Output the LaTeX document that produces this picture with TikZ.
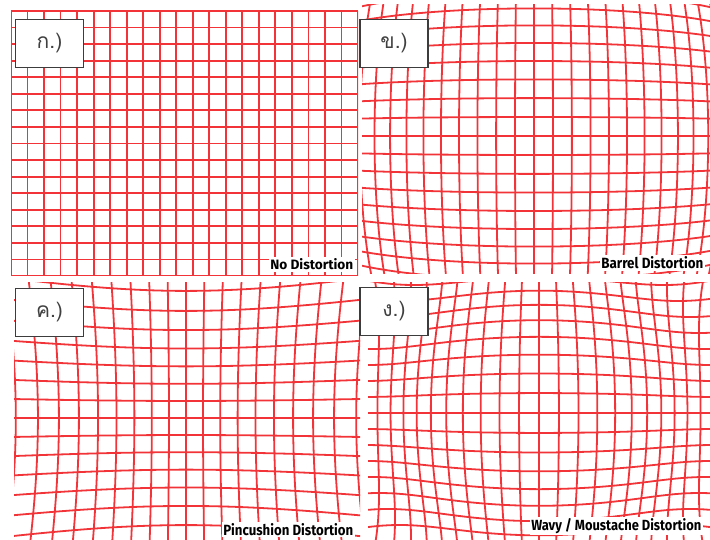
\documentclass[tikz,border=0pt]{standalone}
\usepackage{fontspec}
\usepackage{graphicx}
\setmainfont{Liberation Sans}
\newfontfamily\thaifont[Script=Thai]{Loma}
\newfontfamily\labfont{Fira Sans}
\definecolor{gridred}{RGB}{242,52,56}
\definecolor{boxgray}{RGB}{60,60,60}
\tikzset{
  gridline/.style={draw=gridred, line width=1.8pt},
  lbox/.style={draw=boxgray, fill=white, line width=1.2pt, minimum width=68pt, minimum height=48pt, inner sep=0pt,
    font=\thaifont\fontsize{21}{21}\selectfont, text=black!75},
  caption/.style={fill=white, inner sep=1.5pt, text=black}
}
% #1 cx, #2 cy, #3 spacing/100, #4 N, #5 k1, #6 k2, #7 domain
\newcommand\dgrid[7]{%
  \foreach \i in {-#4,...,#4}{%
    \pgfmathsetmacro\uu{\i*#3}%
    \draw[gridline] plot[domain=-#7:#7, samples=61, variable=\t]
      ({#1+100*\uu*(1+(#5)*(\uu*\uu+\t*\t)+(#6)*(\uu*\uu+\t*\t)^2)},
       {#2+100*\t*(1+(#5)*(\uu*\uu+\t*\t)+(#6)*(\uu*\uu+\t*\t)^2)});
    \draw[gridline] plot[domain=-#7:#7, samples=61, variable=\t]
      ({#1+100*\t*(1+(#5)*(\uu*\uu+\t*\t)+(#6)*(\uu*\uu+\t*\t)^2)},
       {#2+100*\uu*(1+(#5)*(\uu*\uu+\t*\t)+(#6)*(\uu*\uu+\t*\t)^2)});
  }%
}
\begin{document}
\begin{tikzpicture}[x=1pt,y=-1pt]
\useasboundingbox (0,0) rectangle (710,540);
% Panel A: no distortion
\begin{scope}
  \clip (11,11) rectangle (358,276);
  \foreach \i in {0,...,21} \draw[gridline] ({11+\i*347/21},11) -- ++(0,265);
  \foreach \j in {0,...,16} \draw[gridline] (11,{11+\j*265/16}) -- ++(347,0);
\end{scope}
% Panel B: barrel
\begin{scope}
  \clip (362,5) rectangle (710,274);
  \dgrid{534}{136}{0.19}{15}{-0.023}{0}{2.9}
\end{scope}
% Panel C: pincushion
\begin{scope}
  \clip (14,283) rectangle (360,540);
  \dgrid{186}{418}{0.17}{12}{0.048}{0}{2.0}
\end{scope}
% Panel D: wavy
\begin{scope}
  \clip (368,283) rectangle (710,540);
  \dgrid{539}{413}{0.20}{14}{-0.08}{0.008}{2.8}
\end{scope}
% label boxes
\node[lbox] (la) at (49.5,43.5) {ก.)};
\node[lbox] (lb) at (394,43.5) {ข.)};
\node[lbox] (lc) at (49.5,312.5) {ค.)};
\node[lbox] (ld) at (394,311.5) {ง.)};
% captions
\node[caption, anchor=base east] (ca) at (355,270) {\resizebox{83pt}{11pt}{\labfont\bfseries No Distortion}};
\node[caption, anchor=base east] (cb) at (705,269) {\resizebox{102pt}{12pt}{\labfont\bfseries Barrel Distortion}};
\node[caption, anchor=base east] (cc) at (355,535) {\resizebox{130pt}{12pt}{\labfont\bfseries Pincushion Distortion}};
\node[caption, anchor=base east] (cd) at (703,530) {\resizebox{170pt}{12pt}{\labfont\bfseries Wavy / Moustache Distortion}};
\end{tikzpicture}
\end{document}
